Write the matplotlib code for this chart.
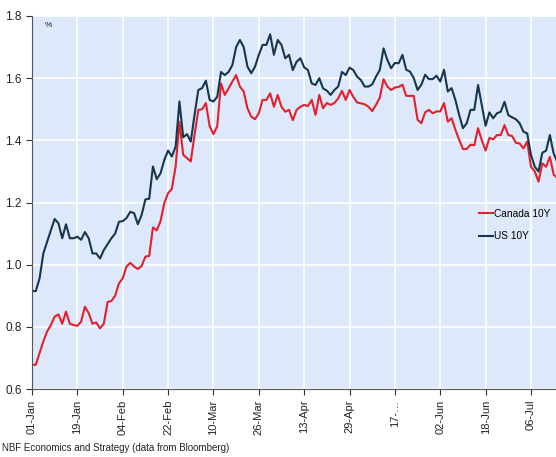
import matplotlib
matplotlib.use("Agg")
import matplotlib.pyplot as plt

# business-day series, 01-Jan onward
us_10y = [
    0.915, 0.915, 0.956, 1.036, 1.074, 1.111, 1.147, 1.133, 1.085, 1.13,
    1.085, 1.085, 1.09, 1.08, 1.105, 1.085, 1.036, 1.036, 1.02, 1.047,
    1.066, 1.085, 1.10, 1.138, 1.14, 1.15, 1.17, 1.166, 1.13, 1.16,
    1.21, 1.212, 1.316, 1.275, 1.294, 1.337, 1.367, 1.348, 1.38, 1.525,
    1.41, 1.42, 1.396, 1.482, 1.562, 1.568, 1.592, 1.53, 1.525, 1.54,
    1.62, 1.61, 1.62, 1.642, 1.70, 1.723, 1.70, 1.637, 1.616, 1.637,
    1.675, 1.707, 1.707, 1.741, 1.675, 1.723, 1.707, 1.664, 1.675, 1.626,
    1.653, 1.664, 1.635, 1.626, 1.583, 1.578, 1.60, 1.567, 1.56, 1.546,
    1.562, 1.573, 1.62, 1.61, 1.634, 1.626, 1.605, 1.594, 1.573, 1.573,
    1.58, 1.605, 1.626, 1.696, 1.659, 1.632, 1.649, 1.648, 1.675, 1.627,
    1.621, 1.60, 1.562, 1.579, 1.611, 1.597, 1.597, 1.608, 1.589, 1.627,
    1.557, 1.568, 1.53, 1.482, 1.439, 1.455, 1.498, 1.498, 1.578, 1.512,
    1.447, 1.49, 1.471, 1.487, 1.492, 1.524, 1.481, 1.474, 1.468, 1.455,
    1.428, 1.422, 1.353, 1.315, 1.30, 1.36, 1.367, 1.417, 1.358, 1.33,
]

canada_10y = [
    0.678, 0.678, 0.715, 0.753, 0.785, 0.806, 0.833, 0.84, 0.81, 0.849,
    0.81, 0.806, 0.803, 0.817, 0.865, 0.844, 0.81, 0.814, 0.795, 0.81,
    0.88, 0.883, 0.90, 0.94, 0.956, 0.994, 1.006, 0.994, 0.986, 0.996,
    1.026, 1.028, 1.12, 1.11, 1.14, 1.198, 1.23, 1.244, 1.316, 1.46,
    1.353, 1.343, 1.332, 1.418, 1.498, 1.50, 1.52, 1.445, 1.42, 1.445,
    1.583, 1.546, 1.567, 1.589, 1.61, 1.573, 1.557, 1.503, 1.476, 1.468,
    1.487, 1.53, 1.53, 1.551, 1.508, 1.546, 1.508, 1.492, 1.498, 1.465,
    1.498, 1.508, 1.514, 1.51, 1.53, 1.482, 1.546, 1.503, 1.52, 1.514,
    1.52, 1.535, 1.559, 1.53, 1.562, 1.54, 1.522, 1.519, 1.516, 1.508,
    1.494, 1.514, 1.537, 1.597, 1.573, 1.562, 1.57, 1.572, 1.579, 1.543,
    1.543, 1.543, 1.466, 1.455, 1.49, 1.498, 1.487, 1.493, 1.493, 1.52,
    1.46, 1.471, 1.434, 1.402, 1.372, 1.372, 1.386, 1.384, 1.439, 1.40,
    1.367, 1.408, 1.403, 1.417, 1.417, 1.449, 1.417, 1.414, 1.392, 1.39,
    1.374, 1.396, 1.315, 1.30, 1.267, 1.326, 1.315, 1.347, 1.29, 1.278,
]

# one label every 12 business days
date_labels = ["01-Jan", "19-Jan", "04-Feb", "22-Feb", "10-Mar", "26-Mar",
               "13-Apr", "29-Apr", "17-\u2026", "02-Jun", "18-Jun", "06-Jul"]
y_ticks = [0.6, 0.8, 1.0, 1.2, 1.4, 1.6, 1.8]

plt.rcParams["font.family"] = ["Liberation Sans", "DejaVu Sans"]

fig = plt.figure(figsize=(5.56, 4.57), dpi=100)
# axes run past the right edge, as in the cropped original
ax = fig.add_axes([32 / 556, 1 - 389 / 457, 533 / 556, 373 / 457])
ax.set_facecolor("#dde9fb")

x = list(range(len(us_10y)))
ax.plot(x, canada_10y, color="#e3202b", linewidth=1.5, label="Canada 10Y")
ax.plot(x, us_10y, color="#17364d", linewidth=1.5, label="US 10Y")

ax.set_xlim(0, 141)
ax.set_ylim(0.6, 1.8)
ax.set_xticks(range(0, 12 * len(date_labels), 12))
ax.set_xticklabels(date_labels, rotation=90, fontsize=8)
ax.set_yticks(y_ticks)
ax.set_yticklabels([f"{v:.1f}" for v in y_ticks], fontsize=8.5)

ax.grid(True, color="white", linewidth=1.2)
ax.set_axisbelow(True)
for side in ["top", "right"]:
    ax.spines[side].set_visible(False)
for side in ["left", "bottom"]:
    ax.spines[side].set_color("#555555")
ax.tick_params(direction="out", length=4, color="#333333", labelcolor="#222222")

ax.text(0.024, 0.985, "%", transform=ax.transAxes, fontsize=6,
        va="top", ha="left", color="#222222")

fig.legend(loc="center left", bbox_to_anchor=(479 / 556, 1 - 225 / 457),
           frameon=False, fontsize=7.3, handlelength=1.4, handletextpad=0.1,
           labelspacing=1.2, borderaxespad=0, borderpad=0)

fig.text(0.004, 0.009, "NBF Economics and Strategy (data from Bloomberg)",
         fontsize=7, color="#222222", ha="left", va="bottom")

fig.savefig("out.png", dpi=100)
plt.close(fig)
